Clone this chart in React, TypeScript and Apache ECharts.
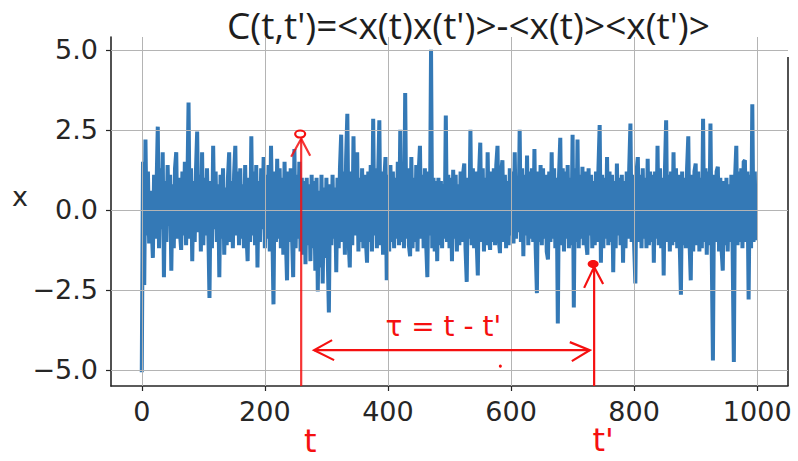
import React, { useEffect, useRef } from "react";
import * as echarts from "echarts";

const STEP = 2;
// x values 0..198 (step 2)
const seg0 = [
  -5.07, 1.5, -2.35, 2.2, -0.8, 1.2, -1.05, 0.6, -0.4, -1.5,
  1.1, -0.9, 0.7, 2.6, -1.2, 1.3, -0.6, 1.8, -2.1, 0.9,
  -1.0, 1.4, -0.5, 1.1, -1.9, 0.8, -1.2, 1.3, 1.8, -0.9,
  1.0, -0.7, -1.25, 1.2, -0.8, 1.5, -1.1, 0.6, 3.35, -0.9,
  1.3, -1.6, 0.9, -1.0, 1.2, 2.45, -0.7, 1.1, -1.3, 1.8,
  -1.1, 1.0, -0.8, 1.3, -0.5, -2.75, 0.9, -1.2, 2.0, -0.6,
  1.2, -1.0, 0.8, -2.1, 1.1, -0.9, 1.3, -1.4, 0.7, -1.1,
  1.0, 1.8, -1.0, 0.9, -1.2, 1.1, 2.0, -0.8, 1.2, -1.1,
  1.3, -0.9, 0.8, -1.2, 1.4, -0.7, -1.6, 1.0, -1.0, 2.3,
  -0.8, 1.2, -1.1, 1.4, -1.8, 0.9, -1.0, 1.3, -0.6, 1.65,
];
// x values 200..398
const seg1 = [
  -1.2, 1.1, -0.9, 1.4, -1.3, 2.0, -0.5, -2.95, 1.2, -1.0,
  1.6, -0.9, 1.3, -1.2, 1.0, -1.4, 1.5, -0.8, -2.2, 1.2,
  -1.0, 1.3, -0.7, -2.1, 1.9, -1.2, 1.1, -0.9, 1.5, -1.3,
  1.0, -1.4, 0.9, -1.7, 1.0, -1.1, 0.8, -1.6, 1.1, -1.2,
  0.9, -1.9, 1.0, -2.55, 0.6, -1.8, 1.1, -2.3, 0.7, -1.5,
  1.0, -1.3, -3.2, 0.8, -1.1, 1.1, -0.9, 0.7, -1.95, 1.0,
  -1.2, 1.3, 2.35, -1.0, 1.2, -1.4, 1.6, 3.0, -0.9, -1.8,
  1.2, -1.1, 2.3, -0.8, 1.1, 1.8, -1.3, 1.0, -1.0, 1.3,
  -1.2, 1.1, -0.9, -1.65, 1.2, -1.0, 1.4, -1.3, 2.85, -0.8,
  1.3, -1.2, 1.0, 2.8, -1.1, 1.2, -1.4, 0.9, 1.65, -2.2,
];
// x values 400..598
const seg2 = [
  1.1, -1.3, 1.4, -1.0, 1.2, -1.2, 1.0, -0.9, 1.5, -1.1,
  2.5, -1.0, 1.2, -1.2, 3.65, -0.9, 1.3, -1.1, -1.45, 1.65,
  -1.2, 1.0, -1.0, 1.4, -1.3, 1.2, 2.0, -0.9, 1.1, -1.2,
  1.3, -1.0, -2.1, 1.2, -0.8, 5.0, -1.2, 1.0, -1.3, 0.9,
  -1.6, 1.0, -1.1, 0.9, -1.2, 0.8, -0.9, 2.95, -1.0, 1.1,
  -1.2, 1.0, -1.6, 1.25, -0.9, 1.1, -1.3, 0.8, -1.1, 1.2,
  -1.0, 1.1, 1.45, -1.2, -2.25, 1.0, -0.9, 2.5, -1.1, 1.3,
  -1.2, 1.2, -0.9, -2.05, 1.1, 2.1, -1.0, 1.3, -1.3, 1.0,
  -1.1, 1.8, -0.8, -1.25, 1.2, -1.0, 1.3, -1.1, 1.4, 2.0,
  -0.9, -1.35, 1.2, 1.55, -1.0, 1.1, -1.2, 0.9, -1.1, 1.3,
];
// x values 600..798
const seg3 = [
  -0.8, 1.2, -1.05, 1.8, -0.9, 1.0, -0.7, 2.5, -1.0, 1.3,
  -1.45, 1.1, -0.8, 1.7, -1.1, 1.2, -0.9, 1.3, -1.0, 1.9,
  -1.2, -2.6, 1.2, -1.0, 1.4, -1.1, 1.3, -0.9, 1.1, -1.3,
  -1.55, 1.2, -1.0, 1.8, -0.9, 1.3, -1.2, 1.0, -3.55, 1.1,
  2.25, -1.1, 1.3, -1.3, 1.2, -0.9, 1.4, -1.2, 1.0, -1.1,
  2.35, -3.05, 1.3, -1.0, 2.2, -1.2, 1.1, -0.9, 1.35, -1.1,
  1.2, -1.0, -1.4, 1.3, -0.8, 1.1, -1.2, 0.9, -1.1, 1.2,
  -1.0, 1.3, 2.65, -1.65, 1.1, -1.2, 1.0, -0.9, 1.65, -1.1,
  1.2, -1.0, 1.1, -1.95, 0.9, -1.2, 1.45, -0.8, 1.0, -1.1,
  1.1, -1.65, 0.9, -1.2, 1.2, -0.9, 1.3, 2.7, -1.0, 1.1,
];
// x values 800..998
const seg4 = [
  -1.1, -2.3, 1.2, 1.65, -1.0, 1.1, -1.2, 1.3, -0.9, 1.0,
  -1.2, 1.6, -1.1, 1.2, -1.0, 1.1, -1.65, 1.2, -0.9, 2.0,
  -1.1, 1.3, -1.2, 1.0, -2.05, 1.2, 2.8, -1.0, 1.1, -1.3,
  1.2, -1.1, 1.8, -1.0, 1.3, -1.2, 1.1, -1.0, -2.65, 1.2,
  -1.1, 1.0, -1.2, 1.3, 2.3, -1.0, -2.2, 1.1, -1.3, 1.2,
  1.45, -1.1, 1.2, -1.3, 1.0, -1.2, 2.85, -1.0, 1.3, -1.4,
  1.2, -1.1, 2.7, -1.2, -4.7, 1.1, -1.0, 1.2, 1.35, -1.3,
  1.0, -1.2, -1.9, 0.9, -1.1, 1.0, -1.3, 0.8, -1.0, 1.1,
  -1.2, -4.75, 1.0, 2.0, -1.1, 1.2, -1.0, 1.3, -1.2, 1.5,
  1.55, -1.0, 1.2, -2.8, 1.1, -1.2, 3.3, -1.0, 1.2, -0.95,
];

const xTicks = [0, 200, 400, 600, 800, 1000];
const yTicks = [-5, -2.5, 0, 2.5, 5];
const X_MIN = -50;
const X_MAX = 1050;
const Y_MIN = -5.5;
const Y_MAX = 5.4;

// annotation anchors (data coordinates)
const tPos = 259;
const tTip = 2.22;
const tMark = 2.37;
const tPrimePos = 735;
const tPrimeTip = -1.78;
const tPrimeMark = -1.69;
const tauY = -4.38;
const tauLeft = 280;
const tauRight = 728;
const tauTextX = 490;
const tauTextY = -3.63;

const TITLE = "C(t,t')=<x(t)x(t')>-<x(t)><x(t')>";

export default function App() {
  const ref = useRef<HTMLDivElement>(null);
  useEffect(() => {
    const chart = echarts.init(ref.current!, null, { renderer: "svg" });
    const values = [...seg0, ...seg1, ...seg2, ...seg3, ...seg4];
    const data = values.map((v, i) => [i * STEP, v]);
    const gridLines = [
      ...yTicks.map((v) => ({ yAxis: v })),
      ...xTicks.map((v) => ({ xAxis: v })),
    ];
    const fmtY = (v: number) =>
      v < 0 ? "\u2212" + Math.abs(v).toFixed(1) : v.toFixed(1);
    const axisText = {
      fontSize: 27,
      fontFamily: "DejaVu Sans",
      color: "#262626",
    };
    chart.setOption({
      animation: false,
      backgroundColor: "#ffffff",
      grid: { left: 111, right: 10, top: 37, bottom: 75 },
      xAxis: {
        type: "value",
        min: X_MIN,
        max: X_MAX,
        axisLine: { show: true, onZero: false, lineStyle: { color: "#262626", width: 1.6 } },
        axisTick: { show: true, length: 5, customValues: xTicks, lineStyle: { color: "#262626", width: 1.2 } },
        axisLabel: { ...axisText, customValues: xTicks, margin: 12, formatter: (v: number) => String(v) },
        splitLine: { show: false },
      },
      yAxis: {
        type: "value",
        min: Y_MIN,
        max: Y_MAX,
        axisLine: { show: true, onZero: false, lineStyle: { color: "#262626", width: 1.6 } },
        axisTick: { show: true, length: 5, customValues: yTicks, lineStyle: { color: "#262626", width: 1.2 } },
        axisLabel: { ...axisText, customValues: yTicks, margin: 13, formatter: fmtY },
        splitLine: { show: false },
      },
      series: [
        {
          type: "line",
          data: [[0, 0]],
          symbol: "none",
          lineStyle: { opacity: 0 },
          silent: true,
          z: 1,
          markLine: {
            silent: true,
            symbol: ["none", "none"],
            label: { show: false },
            lineStyle: { color: "#b4b4b4", width: 1, type: "solid" },
            data: gridLines,
          },
        },
        {
          type: "line",
          data,
          symbol: "none",
          showSymbol: false,
          lineStyle: { color: "#3479b6", width: 4, join: "miter", miterLimit: 2 },
          z: 2,
        },
      ],
    });

    const p = (x: number, y: number) =>
      chart.convertToPixel({ gridIndex: 0 }, [x, y]) as number[];
    const red = "#f51010";
    const [tx, tTipY] = p(tPos, tTip);
    const tMarkY = p(tPos, tMark)[1];
    const bottomY = p(tPos, Y_MIN)[1];
    const [tpx, tpTipY] = p(tPrimePos, tPrimeTip);
    const tpMarkY = p(tPrimePos, tPrimeMark)[1];
    const [hL, hY] = p(tauLeft, tauY);
    const hR = p(tauRight, tauY)[0];
    const [tauX, tauYpx] = p(tauTextX, tauTextY);
    const rightX = p(X_MAX, 0)[0];
    const topY = p(0, Y_MAX)[1];

    chart.setOption({
      graphic: [
        {
          type: "text",
          left: 227,
          top: 6,
          style: { text: TITLE, font: "37px 'Open Sans'", fill: "#1e1e1e" },
        },
        {
          type: "text",
          x: 20,
          y: 196,
          style: { text: "x", font: "27px 'DejaVu Sans'", fill: "#262626", align: "center", verticalAlign: "middle" },
        },
        {
          type: "line",
          shape: { x1: rightX, y1: topY + 20, x2: rightX, y2: bottomY },
          style: { stroke: "#262626", lineWidth: 1.6 },
        },
        {
          type: "line",
          z: 100,
          shape: { x1: tx, y1: bottomY, x2: tx, y2: tTipY },
          style: { stroke: red, lineWidth: 2.2, opacity: 0.85 },
        },
        {
          type: "polyline",
          z: 100,
          shape: { points: [[tx - 10, tTipY + 18], [tx, tTipY], [tx + 9, tTipY + 17]] },
          style: { stroke: red, lineWidth: 2.2, fill: "none", opacity: 0.85 },
        },
        {
          type: "ellipse",
          z: 100,
          shape: { cx: tx - 1, cy: tMarkY, rx: 5, ry: 3.5 },
          style: { stroke: red, lineWidth: 2.2, fill: "rgba(255,255,255,0.6)" },
        },
        {
          type: "line",
          z: 100,
          shape: { x1: tpx, y1: bottomY, x2: tpx, y2: tpTipY },
          style: { stroke: red, lineWidth: 2.2 },
        },
        {
          type: "polyline",
          z: 100,
          shape: { points: [[tpx - 10, tpTipY + 21], [tpx, tpTipY], [tpx + 9, tpTipY + 17]] },
          style: { stroke: red, lineWidth: 2.2, fill: "none" },
        },
        {
          type: "ellipse",
          z: 100,
          shape: { cx: tpx - 1, cy: tpMarkY, rx: 5.5, ry: 4 },
          style: { fill: red },
        },
        {
          type: "line",
          z: 100,
          shape: { x1: hL, y1: hY, x2: hR, y2: hY },
          style: { stroke: red, lineWidth: 2.2 },
        },
        {
          type: "polyline",
          z: 100,
          shape: { points: [[hL + 18, hY - 10], [hL, hY], [hL + 20, hY + 10]] },
          style: { stroke: red, lineWidth: 2.2, fill: "none" },
        },
        {
          type: "polyline",
          z: 100,
          shape: { points: [[hR - 20, hY - 8], [hR, hY], [hR - 18, hY + 11]] },
          style: { stroke: red, lineWidth: 2.2, fill: "none" },
        },
        {
          type: "text",
          z: 100,
          x: tauX,
          y: tauYpx,
          style: { text: "\u03c4 = t - t'", font: "28px 'DejaVu Sans'", fill: red, align: "center", verticalAlign: "middle" },
        },
        {
          type: "circle",
          z: 100,
          shape: { cx: tauX + 57, cy: hY + 16, r: 1.5 },
          style: { fill: red },
        },
        {
          type: "text",
          z: 100,
          x: tx + 9,
          y: bottomY + 55,
          style: { text: "t", font: "32px 'DejaVu Sans'", fill: red, align: "center", verticalAlign: "middle" },
        },
        {
          type: "text",
          z: 100,
          x: tpx + 9,
          y: bottomY + 54,
          style: { text: "t'", font: "32px 'DejaVu Sans'", fill: red, align: "center", verticalAlign: "middle" },
        },
      ],
    });
    return () => chart.dispose();
  }, []);
  return (
    <div
      ref={ref}
      style={{ position: "fixed", left: 0, top: 0, width: 798, height: 461, background: "#fff" }}
    />
  );
}
